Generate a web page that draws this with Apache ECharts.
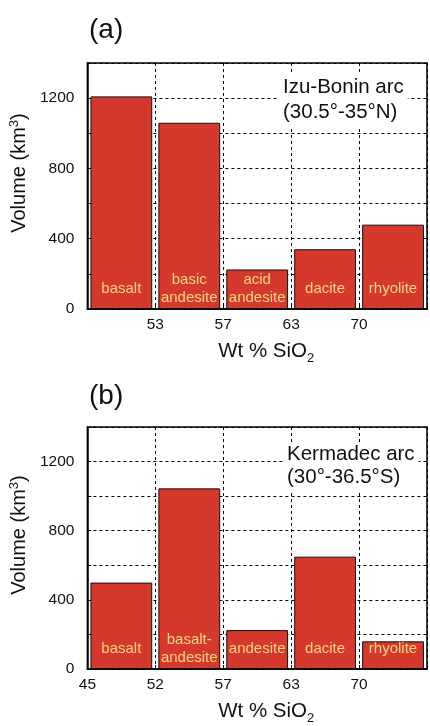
<!DOCTYPE html>
<html><head><meta charset="utf-8">
<script src="https://cdn.jsdelivr.net/npm/echarts@6/dist/echarts.min.js"></script>
<style>html,body{margin:0;padding:0;background:#fff}#c{width:430px;height:726px}</style>
</head><body><div id="c"></div>
<script>
// Panel (a) Izu-Bonin arc
const rocksA = ['basalt', 'basic\nandesite', 'acid\nandesite', 'dacite', 'rhyolite'];
const volumesA = [1210, 1060, 225, 340, 480];
const ticksA = ['', '53', '57', '63', '70', ''];
// Panel (b) Kermadec arc
const rocksB = ['basalt', 'basalt-\nandesite', 'andesite', 'dacite', 'rhyolite'];
const volumesB = [500, 1045, 225, 650, 160];
const ticksB = ['45', '52', '57', '63', '70', ''];
const yTicks = [0, 400, 800, 1200];

const FONT = 'Liberation Sans';
const chart = echarts.init(document.getElementById('c'), null, {renderer: 'canvas'});

const grids = [
  {left: 86, top: 63, width: 343, height: 246},
  {left: 86, top: 427, width: 343, height: 246}
];

function xAxesFor(i, cats, ticks) {
  return [
    {gridIndex: i, type: 'category', data: cats, position: 'bottom',
     axisLine: {show: true, lineStyle: {color: '#000', width: 1.5}},
     axisTick: {show: false}, axisLabel: {show: false}, splitLine: {show: false}},
    {gridIndex: i, type: 'category', data: ticks, boundaryGap: false, position: 'bottom',
     axisLine: {show: false}, axisTick: {show: true, inside: true, length: 4, lineStyle: {color: '#000'}},
     axisLabel: {show: true, interval: 0, color: '#111', fontSize: 15.5, fontFamily: FONT, margin: 8},
     splitLine: {show: true, lineStyle: {color: '#000', type: [3, 3], width: 1}},
     name: 'Wt % SiO{sub|2}', nameLocation: 'middle', nameGap: 32,
     nameTextStyle: {color: '#111', fontSize: 20.5, fontFamily: FONT, padding: [0, 0, 0, 18],
       rich: {sub: {fontSize: 13, fontFamily: FONT, color: '#111', verticalAlign: 'bottom', padding: [0,0,-3,0]}}}}
  ];
}
function yAxisFor(i) {
  return {gridIndex: i, type: 'value', min: 0, max: 1400, interval: 200,
    axisLine: {show: true, lineStyle: {color: '#000', width: 1.5}},
    axisTick: {show: true, inside: true, length: 4, lineStyle: {color: '#000'}},
    axisLabel: {color: '#111', fontSize: 15.5, fontFamily: FONT, margin: 13,
      formatter: v => yTicks.includes(v) ? String(v) : ''},
    splitLine: {show: true, lineStyle: {color: '#000', type: [3, 3], width: 1}},
    name: 'Volume (km{sup|3})', nameLocation: 'middle', nameGap: 52, nameRotate: 90,
    nameTextStyle: {color: '#111', fontSize: 20, fontFamily: FONT, padding: [0, 0, 0, 26],
      rich: {sup: {fontSize: 13, fontFamily: FONT, color: '#111', verticalAlign: 'top', padding: [0,0,9,0]}}}};
}
function barSeries(i, vals) {
  return {type: 'bar', xAxisIndex: i * 2, yAxisIndex: i, data: vals, barCategoryGap: '9%',
    itemStyle: {color: '#d5392e', borderColor: '#111', borderWidth: 1},
    label: {show: true, position: ['50%', '100%'], offset: [0, -20], align: 'center', verticalAlign: 'middle',
      formatter: p => (i === 0 ? rocksA : rocksB)[p.dataIndex],
      color: '#f6d77c', fontSize: 15, fontFamily: FONT, lineHeight: 18}};
}

chart.setOption({
  animation: false,
  backgroundColor: '#fff',
  grid: grids.map(g => Object.assign({show: true, borderColor: '#000', borderWidth: 1.5, backgroundColor: 'transparent'}, g)),
  xAxis: [...xAxesFor(0, rocksA, ticksA), ...xAxesFor(1, rocksB, ticksB)],
  yAxis: [yAxisFor(0), yAxisFor(1)],
  series: [barSeries(0, volumesA), barSeries(1, volumesB)],
  title: [
    {text: '(a)', left: 84, top: 11, textStyle: {fontSize: 28, fontWeight: 'normal', color: '#111', fontFamily: FONT}},
    {text: '(b)', left: 84, top: 377, textStyle: {fontSize: 28, fontWeight: 'normal', color: '#111', fontFamily: FONT}},
    {text: 'Izu-Bonin arc\n(30.5°-35°N)', left: 279, top: 74, backgroundColor: '#fff', padding: [1, 4],
     textStyle: {fontSize: 20.5, fontWeight: 'normal', color: '#111', fontFamily: FONT, lineHeight: 25}},
    {text: 'Kermadec arc\n(30°-36.5°S)', left: 283, top: 442, backgroundColor: '#fff', padding: [1, 4],
     textStyle: {fontSize: 20.5, fontWeight: 'normal', color: '#111', fontFamily: FONT, lineHeight: 23}}
  ]
});
</script></body></html>
